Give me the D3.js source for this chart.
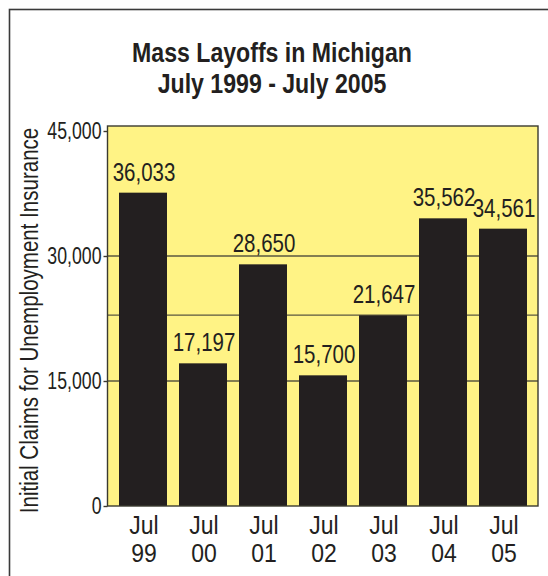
<!DOCTYPE html>
<html>
<head>
<meta charset="utf-8">
<script src="https://cdn.jsdelivr.net/npm/d3@7"></script>
<style>
  html, body { margin: 0; padding: 0; background: #ffffff; }
  svg { display: block; }
  text { font-family: "Liberation Sans", Arial, Helvetica, sans-serif; fill: #231f20; }
</style>
</head>
<body>
<div id="chart"></div>
<script>
// ---- data ----
const monthLabels = ["Jul", "Jul", "Jul", "Jul", "Jul", "Jul", "Jul"];
const yearLabels  = ["99", "00", "01", "02", "03", "04", "05"];
// printed values above the bars
const claims = [36033, 17197, 28650, 15700, 21647, 35562, 34561];
// bar heights as drawn in the picture
const barLevels = [37600, 17120, 29000, 15680, 22880, 34520, 33280];
const tickValues = [0, 15000, 30000, 45000];
const gridValues = [15000, 22900, 30000];
const titleLines = ["Mass Layoffs in Michigan", "July 1999 - July 2005"];
const yTitle = "Initial Claims for Unemployment Insurance";

// ---- layout ----
const W = 548, H = 576;
const plot = { left: 107.5, right: 538, top: 126, bottom: 506 };

const svg = d3.select("#chart").append("svg")
  .attr("width", W).attr("height", H);

// outer frame (cropped on right & bottom)
svg.append("rect")
  .attr("x", 9.5).attr("y", 9.5)
  .attr("width", W + 20).attr("height", H + 20)
  .attr("fill", "none").attr("stroke", "#3a3a3a").attr("stroke-width", 1.6);

const x = d3.scaleBand()
  .domain(d3.range(yearLabels.length))
  .range([113, 533])
  .paddingInner(0.2)
  .paddingOuter(0.1);

const y = d3.scaleLinear()
  .domain([0, 45600])
  .range([plot.bottom, plot.top]);

// plot background
svg.append("rect")
  .attr("x", plot.left).attr("y", plot.top)
  .attr("width", plot.right - plot.left).attr("height", plot.bottom - plot.top)
  .attr("fill", "#fff385");

// gridlines
svg.append("g").selectAll("line").data(gridValues).join("line")
  .attr("x1", plot.left).attr("x2", plot.right)
  .attr("y1", d => y(d)).attr("y2", d => y(d))
  .attr("stroke", "#5a5740").attr("stroke-width", 1.4);

// bars
svg.append("g").selectAll("rect").data(barLevels).join("rect")
  .attr("x", (d, i) => x(i))
  .attr("width", x.bandwidth())
  .attr("y", d => y(d))
  .attr("height", d => y(0) - y(d))
  .attr("fill", "#231f20");

// plot border
svg.append("rect")
  .attr("x", plot.left).attr("y", plot.top)
  .attr("width", plot.right - plot.left).attr("height", plot.bottom - plot.top)
  .attr("fill", "none").attr("stroke", "#3a3a30").attr("stroke-width", 1.4);

// y axis
const yAxis = d3.axisLeft(y)
  .tickValues(tickValues)
  .tickSize(4)
  .tickPadding(3)
  .tickFormat(d3.format(","));
const gy = svg.append("g")
  .attr("transform", `translate(${plot.left},0)`)
  .call(yAxis);
gy.select(".domain").remove();
gy.selectAll(".tick line").attr("stroke", "#3a3a30").attr("stroke-width", 1.4);
gy.selectAll(".tick text")
  .attr("font-size", 23)
  .attr("fill", "#231f20")
  .attr("x", null)
  .attr("dy", null)
  .attr("dominant-baseline", "central")
  .attr("text-anchor", "end")
  .attr("transform", "translate(-6,-1) scale(0.77,1)");

// value labels
const fmt = d3.format(",");
svg.append("g").selectAll("text").data(claims).join("text")
  .attr("transform", (d, i) =>
    `translate(${x(i) + x.bandwidth() / 2 + 1},${y(barLevels[i]) - 12}) scale(0.82,1)`)
  .attr("text-anchor", "middle")
  .attr("font-size", 25)
  .text(d => fmt(d));

// x labels
const gx = svg.append("g").selectAll("g").data(yearLabels).join("g")
  .attr("transform", (d, i) => `translate(${x(i) + x.bandwidth() / 2 + 1},0)`);
gx.append("text")
  .attr("transform", "translate(0,533.5) scale(0.92,1)")
  .attr("text-anchor", "middle")
  .attr("font-size", 25)
  .text((d, i) => monthLabels[i]);
gx.append("text")
  .attr("transform", "translate(0,562) scale(0.92,1)")
  .attr("text-anchor", "middle")
  .attr("font-size", 25)
  .text(d => d);

// title
svg.append("g").selectAll("text").data(titleLines).join("text")
  .attr("transform", (d, i) => `translate(272,${i === 0 ? 61.5 : 92.5}) scale(0.826,1)`)
  .attr("text-anchor", "middle")
  .attr("font-size", 28)
  .attr("font-weight", "bold")
  .text(d => d);

// y title
svg.append("text")
  .attr("transform", "translate(38,320.5) rotate(-90) scale(0.79,1)")
  .attr("text-anchor", "middle")
  .attr("font-size", 26)
  .text(yTitle);
</script>
</body>
</html>
